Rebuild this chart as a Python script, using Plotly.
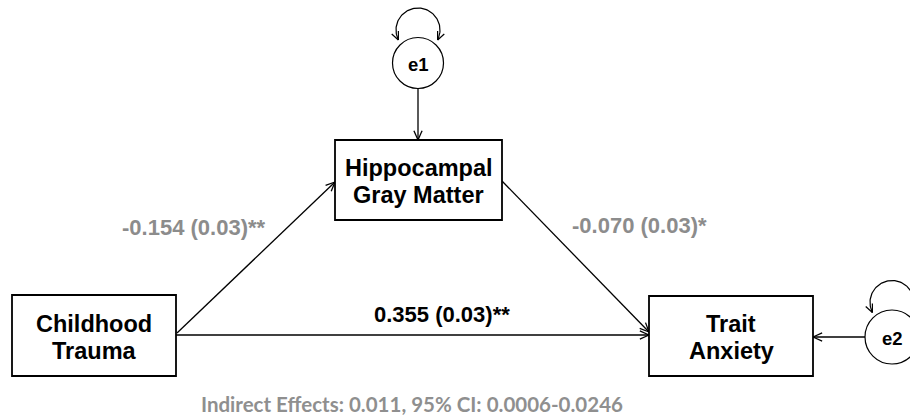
import numpy as np
import plotly.graph_objects as go

# ---------------- data ----------------
node_ids = ["CT", "HGM", "TA"]
node_line1 = ["Childhood", "Hippocampal", "Trait"]
node_line2 = ["Trauma", "Gray Matter", "Anxiety"]
error_terms = ["e1", "e2"]
error_targets = ["HGM", "TA"]

path_from = ["CT", "HGM", "CT"]
path_to = ["HGM", "TA", "TA"]
path_coef = [-0.154, -0.070, 0.355]
path_se = [0.03, 0.03, 0.03]
path_stars = ["**", "*", "**"]

indirect_effect = 0.011
ci_low = 0.0006
ci_high = 0.0246

# ---------------- layout (pixel geometry) ----------------
W, H = 910, 417
box = {"CT": (12, 295, 176, 376), "HGM": (335, 140, 502, 220), "TA": (649, 296, 813, 376)}
circ = {"e1": (418, 63, 25.5), "e2": (892, 337, 27)}
arrow_pts = {
    ("CT", "HGM"): ((177, 333), (335, 182)),
    ("HGM", "TA"): ((502, 181), (649, 332)),
    ("CT", "TA"): ((176, 335), (649, 335)),
}
err_arrow = {"e1": ((418, 88.5), (418, 140)), "e2": ((865, 337), (813, 337))}
label_pos = {0: (120, 227, "left"), 1: (570, 225, "left"), 2: (372, 314, "left")}
label_color = ["#8c8c8c", "#8c8c8c", "#000000"]

fig = go.Figure()


def add_line(xs, ys, width=1.3):
    fig.add_trace(go.Scatter(x=xs, y=ys, mode="lines", line=dict(color="black", width=width),
                             hoverinfo="skip", showlegend=False))


def arrowhead(tip, direction, length=10, half=24):
    d = np.array(direction, float)
    d /= np.linalg.norm(d)
    a = np.radians(half)
    xs, ys = [], []
    for s in (a, -a):
        rot = np.array([[np.cos(s), -np.sin(s)], [np.sin(s), np.cos(s)]])
        back = rot @ (-d) * length
        xs += [tip[0] + back[0], tip[0], None]
        ys += [tip[1] + back[1], tip[1], None]
    return xs, ys


def arrow(p0, p1):
    add_line([p0[0], p1[0]], [p0[1], p1[1]])
    hx, hy = arrowhead(p1, (p1[0] - p0[0], p1[1] - p0[1]))
    add_line(hx, hy)


# boxes
for nid in node_ids:
    x0, y0, x1, y1 = box[nid]
    fig.add_shape(type="rect", x0=x0, y0=y0, x1=x1, y1=y1, xref="x", yref="y",
                  line=dict(color="black", width=1.8), fillcolor="white", layer="above")

# box text
for i, nid in enumerate(node_ids):
    x0, y0, x1, y1 = box[nid]
    cx, cy = (x0 + x1) / 2, (y0 + y1) / 2 + 1.5
    for txt, dy in ((node_line1[i], -13.5), (node_line2[i], 13.5)):
        fig.add_annotation(x=cx, y=cy + dy, text=txt, showarrow=False, xanchor="center", yanchor="middle",
                           font=dict(family="Liberation Sans, Arial", size=23.5, color="black", weight="bold"))

# paths
for i in range(len(path_coef)):
    p0, p1 = arrow_pts[(path_from[i], path_to[i])]
    arrow(p0, p1)
    lx, ly, anc = label_pos[i]
    fig.add_annotation(x=lx, y=ly, text=f"{path_coef[i]:.3f} ({path_se[i]:.2f}){path_stars[i]}",
                       showarrow=False, xanchor=anc, yanchor="middle",
                       font=dict(family="Liberation Sans, Arial", size=22, color=label_color[i], weight="bold"))

# error terms
for e in error_terms:
    cx, cy, r = circ[e]
    fig.add_shape(type="circle", x0=cx - r, x1=cx + r, y0=cy - r, y1=cy + r, xref="x", yref="y",
                  line=dict(color="black", width=1.2), fillcolor="white")
    fig.add_annotation(x=cx, y=cy + 1, text=e, showarrow=False, xanchor="center", yanchor="middle",
                       font=dict(family="Liberation Sans, Arial", size=18.5, color="black", weight="bold"))
    p0, p1 = err_arrow[e]
    arrow(p0, p1)
    # variance self-loop
    lcx, lcy, R = cx, cy - r - 7.5, 22
    t = np.radians(np.linspace(207, -27, 80))
    xs = lcx + R * np.cos(t)
    ys = lcy - R * np.sin(t)
    add_line(list(xs), list(ys), width=1.2)
    hx, hy = arrowhead((xs[-1], ys[-1]), (xs[-1] - xs[-3], ys[-1] - ys[-3]), length=9)
    add_line(hx, hy, width=1.2)
    hx, hy = arrowhead((xs[0], ys[0]), (xs[0] - xs[2], ys[0] - ys[2]), length=9)
    add_line(hx, hy, width=1.2)

fig.add_annotation(x=412, y=404,
                   text=f"Indirect Effects: {indirect_effect:.3f}, 95% CI: {ci_low:.4f}-{ci_high:.4f}",
                   showarrow=False, xanchor="center", yanchor="middle",
                   font=dict(family="Lato", size=20.5, color="#8f8f8f", weight="bold"))

fig.update_layout(
    width=W, height=H, margin=dict(l=0, r=0, t=0, b=0),
    paper_bgcolor="white", plot_bgcolor="white",
    xaxis=dict(range=[0, W], visible=False, fixedrange=True),
    yaxis=dict(range=[H, 0], visible=False, fixedrange=True),
    showlegend=False,
)
fig.write_html("out.html", config={"displayModeBar": False},
               post_script="document.body.style.margin='0';document.body.style.overflow='hidden';")
